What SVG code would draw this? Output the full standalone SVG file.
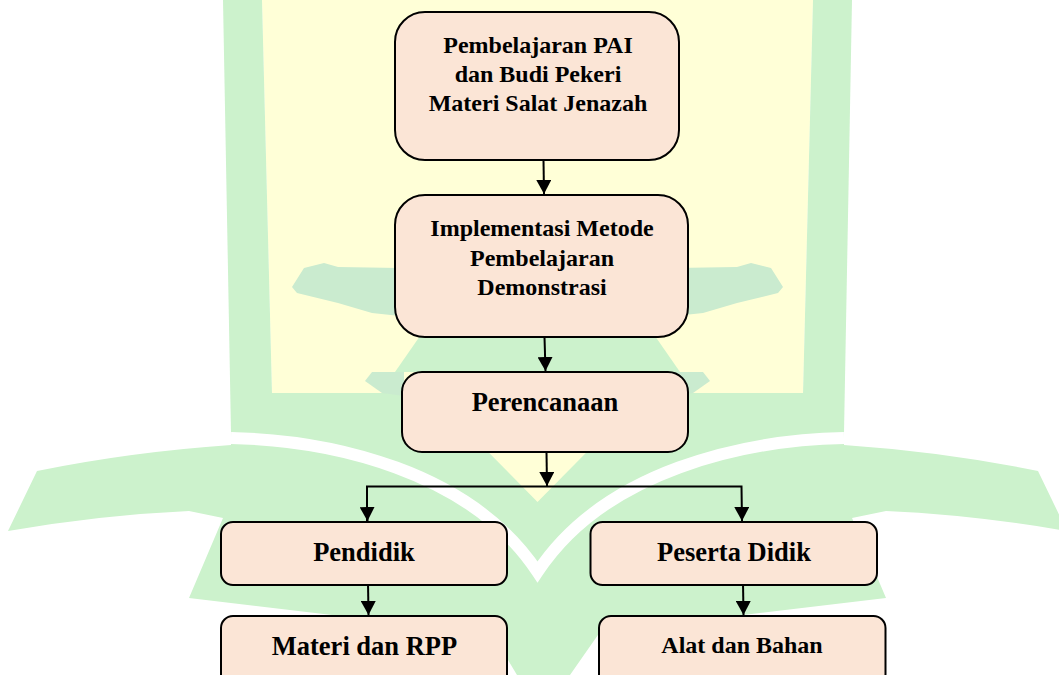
<svg xmlns="http://www.w3.org/2000/svg" width="1059" height="675" viewBox="0 0 1059 675">
  <defs>
    <style>
      .box { fill: #FBE5D6; stroke: #000000; stroke-width: 2; }
      .lbl { font-family: "Liberation Serif", "Times New Roman", serif; font-weight: bold; fill: #000000; text-anchor: middle; }
      .s24 { font-size: 24px; }
      .s26 { font-size: 26.5px; }
      .conn { fill: none; stroke: #000000; stroke-width: 2; }
      .wm-g { fill: #CCF2CC; }
      .wm-g2 { fill: #CAEBCF; }
      .wm-y { fill: #FFFFD7; }
    </style>
    <marker id="arrow" viewBox="0 0 14 15" refX="14" refY="7.5" markerWidth="14" markerHeight="15" markerUnits="userSpaceOnUse" orient="auto">
      <path d="M0,0 L14,7.5 L0,15 Z" fill="#000000"/>
    </marker>
  </defs>

  <rect x="0" y="0" width="1059" height="675" fill="#FFFFFF"/>

  <g id="watermark">
    <path class="wm-y" d="M262,0 L813,0 L803,395 L272,395 Z"/>
    <path class="wm-g" d="M223,0 L262,0 L273,433 L231,433 Z"/>
    <path class="wm-g" d="M813,0 L852,0 L844,433 L802,433 Z"/>
    <path class="wm-g" d="M231,393 L844,393 L844,445 Q945,452 1038,471 L1067,531 Q975,515 886,511 L852,518 L886,598 L600,632 L570,675 L517,675 L505,655 L475,632 L189,598 L223,518 L189,511 Q100,515 8,531 L37,471 Q130,452 231,445 Z"/>
    <path d="M231,438 C330,440 470,470 537.5,572 C605,470 745,440 844,438" fill="none" stroke="#FFFFFF" stroke-width="12"/>
    <path class="wm-y" d="M430,393 L645,393 L537.5,502 Z"/>
    <path class="wm-g" d="M420,336 L655,336 L680,372 L395,372 Z"/>
    <path class="wm-g2" d="M292,287 L304,268 L324,263 L338,267 L400,268 L400,316 L372,313 L338,303 L297,293 Z"/>
    <path class="wm-g2" d="M783,287 L771,268 L751,263 L737,267 L675,268 L675,316 L703,313 L737,303 L778,293 Z"/>
    <path class="wm-g2" d="M365,381 L372,372 L404,372 L404,396 L382,393 Z"/>
    <path class="wm-g2" d="M710,381 L703,372 L671,372 L671,396 L693,393 Z"/>
  </g>

  <g id="connectors">
    <path class="conn" d="M543.5,160 L544,194" marker-end="url(#arrow)"/>
    <path class="conn" d="M544.5,337 L545.5,371" marker-end="url(#arrow)"/>
    <path class="conn" d="M546.5,452 L547,486" marker-end="url(#arrow)"/>
    <path class="conn" d="M367,521 L367,486.5 L741.5,486.5 L742,521" marker-end="url(#arrow)"/>
    <path class="conn" d="M367.2,510 L367.5,521" marker-end="url(#arrow)"/>
    <path class="conn" d="M368,582 L368.5,615" marker-end="url(#arrow)"/>
    <path class="conn" d="M743,582 L743.5,615" marker-end="url(#arrow)"/>
  </g>

  <g id="node-pembelajaran">
    <rect class="box" x="395" y="12" width="284" height="148" rx="30" ry="30"/>
    <text class="lbl s24" x="538" y="53">Pembelajaran PAI</text>
    <text class="lbl s24" x="538" y="82">dan Budi Pekeri</text>
    <text class="lbl s24" x="538" y="111">Materi Salat Jenazah</text>
  </g>

  <g id="node-implementasi">
    <rect class="box" x="395" y="195" width="293" height="142" rx="30" ry="30"/>
    <text class="lbl s24" x="542" y="236">Implementasi Metode</text>
    <text class="lbl s24" x="542" y="265.5">Pembelajaran</text>
    <text class="lbl s24" x="542" y="295">Demonstrasi</text>
  </g>

  <g id="node-perencanaan">
    <rect class="box" x="402" y="372" width="286" height="80" rx="20" ry="20"/>
    <text class="lbl s26" x="545" y="411">Perencanaan</text>
  </g>

  <g id="node-pendidik">
    <rect class="box" x="221" y="522" width="286" height="63" rx="12" ry="12"/>
    <text class="lbl s26" x="364" y="560.5">Pendidik</text>
  </g>

  <g id="node-peserta">
    <rect class="box" x="590.5" y="522" width="286.5" height="63" rx="12" ry="12"/>
    <text class="lbl s26" x="734" y="560.5">Peserta Didik</text>
  </g>

  <g id="node-materi">
    <rect class="box" x="221" y="616" width="286" height="70" rx="12" ry="12"/>
    <text class="lbl s26" x="364.5" y="655">Materi dan RPP</text>
  </g>

  <g id="node-alat">
    <rect class="box" x="599" y="616" width="286.5" height="70" rx="12" ry="12"/>
    <text class="lbl s24" x="742" y="653">Alat dan Bahan</text>
  </g>
</svg>
